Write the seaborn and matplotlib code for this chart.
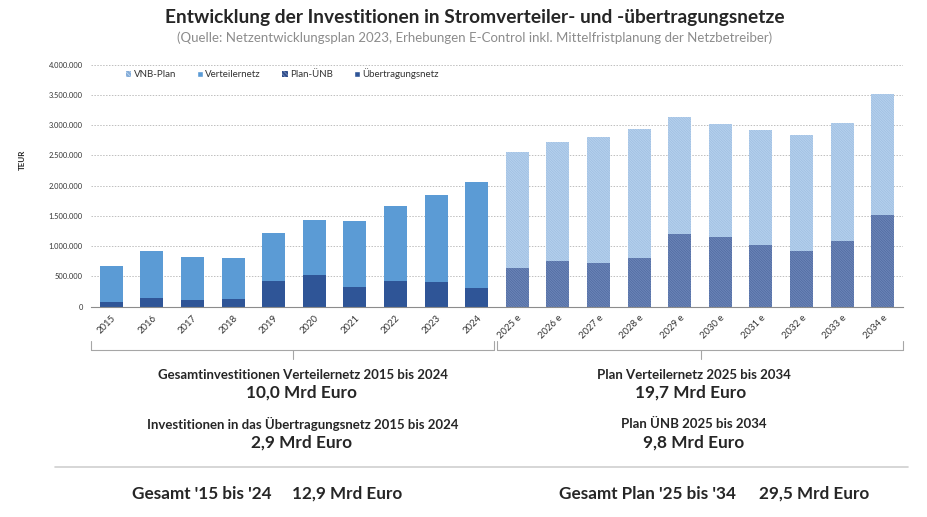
import numpy as np
import pandas as pd
import seaborn as sns
import matplotlib.pyplot as plt
from matplotlib.patches import Patch
from matplotlib.lines import Line2D
from matplotlib.ticker import FuncFormatter

sns.set_style("white")
plt.rcParams['font.family'] = ['Lato', 'DejaVu Sans']
plt.rcParams['hatch.linewidth'] = 0.55

# Daten (TEUR)
years_hist = ['2015', '2016', '2017', '2018', '2019', '2020', '2021', '2022', '2023', '2024']
years_plan = ['2025 e', '2026 e', '2027 e', '2028 e', '2029 e', '2030 e', '2031 e', '2032 e', '2033 e', '2034 e']
verteilernetz = [606000, 782000, 699000, 677000, 804000, 904000, 1101000, 1245000, 1432000, 1741000]
uebertragungsnetz = [72000, 138000, 116000, 127000, 419000, 529000, 320000, 419000, 408000, 314000]
vnb_plan = [1912000, 1967000, 2082000, 2138000, 1944000, 1867000, 1901000, 1917000, 1945000, 2000000]
plan_uenb = [639000, 755000, 722000, 799000, 1196000, 1152000, 1014000, 915000, 1091000, 1510000]

c_vn = '#5b9bd5'
c_ue = '#2f5597'
c_vnb_face, c_vnb_hatch = '#84acd8', '#c2d9f1'
c_puenb_face, c_puenb_hatch = '#314e8a', '#7a92c2'
hatch = '\\' * 20

df = pd.DataFrame({
    'year': years_hist + years_plan,
    'upper': verteilernetz + vnb_plan,
    'lower': uebertragungsnetz + plan_uenb,
    'kind_up': ['Verteilernetz'] * 10 + ['VNB-Plan'] * 10,
    'kind_lo': ['Übertragungsnetz'] * 10 + ['Plan-ÜNB'] * 10,
})
df['total'] = df['upper'] + df['lower']
order = years_hist + years_plan

fig = plt.figure(figsize=(9.27, 5.17), dpi=100)
ax = fig.add_axes([91 / 927, 1 - 306.7 / 517, 812 / 927, 242 / 517])

sns.barplot(data=df, x='year', y='total', hue='kind_up', order=order,
            palette={'Verteilernetz': c_vn, 'VNB-Plan': c_vnb_face}, saturation=1,
            dodge=False, width=0.57, linewidth=0, legend=False, ax=ax)
n_up = len(ax.patches)
sns.barplot(data=df, x='year', y='lower', hue='kind_lo', order=order,
            palette={'Übertragungsnetz': c_ue, 'Plan-ÜNB': c_puenb_face}, saturation=1,
            dodge=False, width=0.57, linewidth=0, legend=False, ax=ax)

# Schraffur für Planwerte
for i, p in enumerate(ax.patches):
    x_c = p.get_x() + p.get_width() / 2
    if x_c > 9.5 and p.get_height() > 0:
        p.set_edgecolor(c_vnb_hatch if i < n_up else c_puenb_hatch)
        p.set_hatch(hatch)
        p.set_linewidth(0)

ax.set_xlim(-0.5, 19.5)
ax.set_ylim(0, 4000000)
ax.set_yticks(np.arange(0, 4000001, 500000))
ax.yaxis.set_major_formatter(FuncFormatter(lambda v, _: f'{int(v):,}'.replace(',', '.')))
ax.grid(axis='y', color='#bfbfbf', linestyle=(0, (1.5, 1.5)), linewidth=0.7)
ax.set_axisbelow(True)
for s in ['top', 'right', 'left']:
    ax.spines[s].set_visible(False)
ax.spines['bottom'].set_color('#8c8c8c')
ax.spines['bottom'].set_linewidth(0.8)
ax.tick_params(axis='y', length=0, labelsize=5.4, labelcolor='#333333', pad=6)
ax.set_xticks(range(20))
ax.set_xticklabels(order, rotation=45, ha='right', rotation_mode='anchor', fontsize=6.8, color='#333333')
ax.tick_params(axis='x', length=0, pad=5)
ax.set_xticks(np.arange(-0.5, 20, 1), minor=True)
ax.tick_params(axis='x', which='minor', length=4, color='#8c8c8c', width=0.8)
ax.set_xlabel('')
ax.set_ylabel('')

fig.text(22 / 927, 1 - 160 / 517, 'TEUR', rotation=90, fontsize=5.8, fontweight='bold',
         ha='center', va='center')

handles = [
    Patch(facecolor=c_vnb_face, edgecolor=c_vnb_hatch, hatch='\\' * 8, linewidth=0, label='VNB-Plan'),
    Patch(facecolor=c_vn, label='Verteilernetz'),
    Patch(facecolor=c_puenb_face, edgecolor=c_puenb_hatch, hatch='\\' * 8, linewidth=0, label='Plan-ÜNB'),
    Patch(facecolor=c_ue, label='Übertragungsnetz'),
]
fig.legend(handles=handles, loc='center left', bbox_to_anchor=(122 / 927, 1 - 74 / 517),
           ncol=4, frameon=False, fontsize=7, handlelength=0.55, handleheight=0.55,
           handletextpad=0.25, columnspacing=2.2, labelcolor='#333333', borderaxespad=0)

fig.text(475 / 927, 1 - 18 / 517, 'Entwicklung der Investitionen in Stromverteiler- und -übertragungsnetze',
         ha='center', va='center', fontsize=13.8, fontweight='bold')
fig.text(475 / 927, 1 - 38 / 517,
         '(Quelle: Netzentwicklungsplan 2023, Erhebungen E-Control inkl. Mittelfristplanung der Netzbetreiber)',
         ha='center', va='center', fontsize=9.5, color='#8c8c8c')

# Klammern unter der Achse
def px(x, y):
    return x / 927, 1 - y / 517

def bracket(x0, x1, xm):
    for (xa, ya), (xb, yb) in [((x0, 341), (x0, 350)), ((x0, 350), (x1, 350)),
                               ((x1, 350), (x1, 341)), ((xm, 350), (xm, 359))]:
        a, b = px(xa, ya), px(xb, yb)
        fig.add_artist(Line2D([a[0], b[0]], [a[1], b[1]], color='#a6a6a6', linewidth=0.8))

bracket(91, 494, 293)
bracket(497, 903, 701)

fig.add_artist(Line2D([55 / 927, 908 / 927], [1 - 467 / 517] * 2, color='#d0d0d0', linewidth=1.2))

def label(x, y, s, size):
    fig.text(x / 927, 1 - y / 517, s, ha='center', va='center', fontsize=size, fontweight='bold')

label(303, 375, 'Gesamtinvestitionen Verteilernetz 2015 bis 2024', 9.5)
label(302, 393, '10,0 Mrd Euro', 12.4)
label(303, 424, 'Investitionen in das Übertragungsnetz 2015 bis 2024', 9.5)
label(302, 443, '2,9 Mrd Euro', 12.4)
label(694, 375, 'Plan Verteilernetz 2025 bis 2034', 9.5)
label(691, 393, '19,7 Mrd Euro', 12.4)
label(694, 424, 'Plan ÜNB 2025 bis 2034', 9.5)
label(694, 443, '9,8 Mrd Euro', 12.4)

def bottom(x, s):
    fig.text(x / 927, 1 - 494 / 517, s, ha='left', va='center', fontsize=12.3, fontweight='bold')

bottom(132, "Gesamt '15 bis '24")
bottom(292, '12,9 Mrd Euro')
bottom(559, "Gesamt Plan '25 bis '34")
bottom(759, '29,5 Mrd Euro')

fig.savefig('out.png', dpi=100)
